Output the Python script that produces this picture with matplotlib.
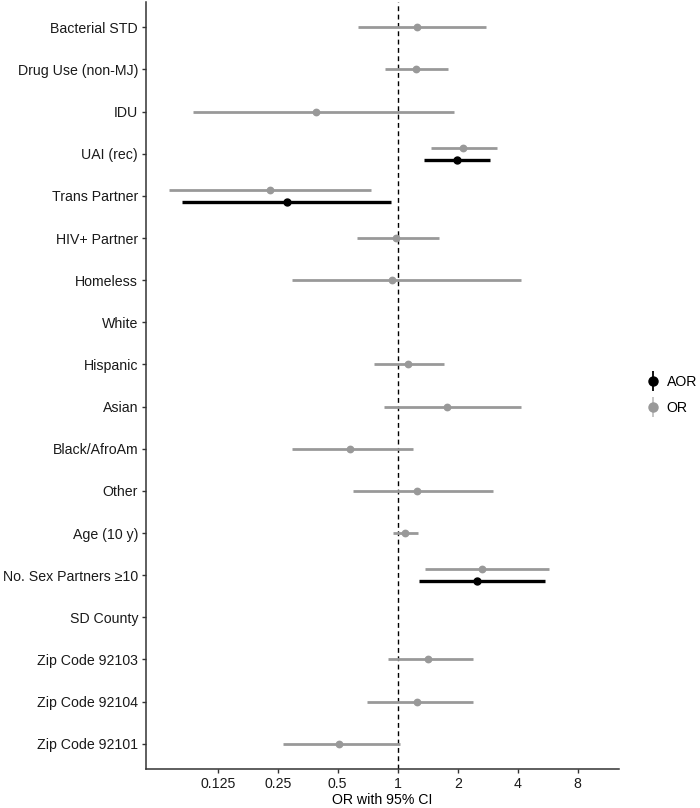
import numpy as np
import matplotlib
matplotlib.use("Agg")
import matplotlib.pyplot as plt
from matplotlib.lines import Line2D
from matplotlib.legend_handler import HandlerTuple
from matplotlib.ticker import FixedLocator, FixedFormatter, NullLocator

plt.rcParams['font.family'] = ['Liberation Sans', 'DejaVu Sans']

categories = ["Bacterial STD", "Drug Use (non-MJ)", "IDU", "UAI (rec)", "Trans Partner",
              "HIV+ Partner", "Homeless", "White", "Hispanic", "Asian", "Black/AfroAm",
              "Other", "Age (10 y)", "No. Sex Partners \u226510", "SD County",
              "Zip Code 92103", "Zip Code 92104", "Zip Code 92101"]

# Unadjusted odds ratios (OR) with 95% CI; None = reference category
or_est = [1.25, 1.235, 0.389, 2.13, 0.228, 0.984, 0.94, None, 1.13, 1.76, 0.576,
          1.25, 1.088, 2.64, None, 1.42, 1.25, 0.509]
or_low = [0.63, 0.866, 0.094, 1.47, 0.0709, 0.623, 0.296, None, 0.76, 0.85, 0.295,
          0.595, 0.944, 1.37, None, 0.891, 0.70, 0.266]
or_high = [2.78, 1.79, 1.91, 3.14, 0.735, 1.617, 4.16, None, 1.70, 4.16, 1.197,
           3.0, 1.27, 5.72, None, 2.38, 2.40, 1.027]

# Adjusted odds ratios (AOR)
aor_cats = ["UAI (rec)", "Trans Partner", "No. Sex Partners \u226510"]
aor_est = [1.98, 0.277, 2.51]
aor_low = [1.355, 0.0829, 1.28]
aor_high = [2.91, 0.922, 5.48]

xticks = [0.125, 0.25, 0.5, 1, 2, 4, 8]
xtick_labels = ["0.125", "0.25", "0.5", "1", "2", "4", "8"]

GRAY = "#999999"
W, H = 700, 808
fig = plt.figure(figsize=(W / 100, H / 100), dpi=100)
ax = fig.add_axes([145.7 / W, (H - 769) / H, (619 - 145.7) / W, (769 - 2) / H])

ypos = {c: i + 1 for i, c in enumerate(categories)}
dodge = 0.143

for c, e, lo, hi in zip(categories, or_est, or_low, or_high):
    if e is None:
        continue
    y = ypos[c] - (dodge if c in aor_cats else 0)
    ax.plot([lo, hi], [y, y], color=GRAY, lw=2.0, solid_capstyle='butt', zorder=2)
    ax.plot([e], [y], 'o', color=GRAY, ms=4.6, zorder=3)

for c, e, lo, hi in zip(aor_cats, aor_est, aor_low, aor_high):
    y = ypos[c] + dodge
    ax.plot([lo, hi], [y, y], color='black', lw=2.4, solid_capstyle='butt', zorder=4)
    ax.plot([e], [y], 'o', color='black', ms=5.0, zorder=5)

ax.axvline(1, color='black', lw=1.0, ls=(0, (3.5, 2.5)), zorder=1)

ax.set_xscale('log', base=2)
ax.set_xlim(2 ** -4.2, 2 ** 3.688)
ax.xaxis.set_major_locator(FixedLocator(xticks))
ax.xaxis.set_major_formatter(FixedFormatter(xtick_labels))
ax.xaxis.set_minor_locator(NullLocator())

ax.set_ylim(len(categories) + 0.6, 0.4)
ax.set_yticks(range(1, len(categories) + 1))
ax.set_yticklabels(categories)

for s in ['top', 'right']:
    ax.spines[s].set_visible(False)
for s in ['left', 'bottom']:
    ax.spines[s].set_color('#333333')
    ax.spines[s].set_linewidth(1.1)
ax.tick_params(axis='both', length=3, width=1, color='#333333', labelsize=10.2,
               labelcolor='#1a1a1a', pad=2.5)
ax.set_xlabel("OR with 95% CI", fontsize=10.2, color='black', labelpad=2)

h_aor = (Line2D([], [], color='black', marker='|', ms=15, mew=1.3, ls='none'),
         Line2D([], [], color='black', marker='o', ms=6.5, ls='none'))
h_or = (Line2D([], [], color=GRAY, marker='|', ms=15, mew=1.3, ls='none', alpha=0.6),
        Line2D([], [], color=GRAY, marker='o', ms=6.5, ls='none'))
fig.legend([h_aor, h_or], ["AOR", "OR"], handler_map={tuple: HandlerTuple(ndivide=1)},
           loc='center left', bbox_to_anchor=(646 / W, (H - 395) / H), frameon=False,
           fontsize=10.2, handlelength=1.0, handletextpad=0.45, labelspacing=0.85,
           borderpad=0, borderaxespad=0)

fig.savefig("out.png", dpi=100)
